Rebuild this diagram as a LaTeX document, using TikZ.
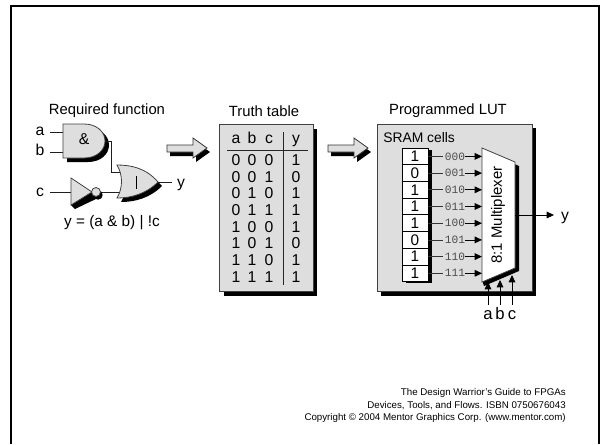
\documentclass[tikz,border=0pt]{standalone}
\usepackage{fontspec}
\setmainfont{Liberation Sans}
\newfontfamily\monof{Liberation Mono}
\usetikzlibrary{arrows.meta}
\definecolor{panel}{gray}{0.87}
\definecolor{wire}{gray}{0.12}
\tikzset{
  x=0.75pt,y=-0.75pt,
  shape fill/.style={fill=panel,draw=black!75,line width=0.6pt},
  wireline/.style={draw=wire,line width=0.6pt},
  arrowline/.style={draw=black,line width=0.6pt,-{Triangle[length=5.5pt,width=5pt]}},
  lab/.style={inner sep=0pt,text height=8pt,text depth=0pt,font=\fontsize{11.8}{12}\selectfont},
  title/.style={inner sep=0pt,font=\fontsize{11.1}{13}\selectfont},
  tt/.style={inner sep=0pt,text height=8pt,text depth=0pt,font=\fontsize{11.8}{12}\selectfont},
  addr/.style={inner sep=0pt,text=black!70,font=\monof\fontsize{8.4}{9}\selectfont},
  foot/.style={inner sep=0pt,anchor=east,font=\fontsize{7.3}{8}\selectfont},
  cellbox/.style={draw=black,line width=0.6pt,fill=white,minimum width=19.5pt,minimum height=12.5pt,inner sep=0pt,font=\fontsize{11.5}{12}\selectfont},
  pt/.style={inner sep=0pt,minimum size=0pt},
}
\newcommand{\fatarrow}[1]{%
  \begin{scope}[shift={(#1,0)}]
    \fill[black] (170,149) -- (196,149) -- (196,142) -- (210,152) -- (196,162) -- (196,156) -- (170,156) -- cycle;
    \draw[fill=panel,draw=black!80,line width=0.6pt] (167,145) -- (193,145) -- (193,138) -- (207,148) -- (193,158) -- (193,152) -- (167,152) -- cycle;
  \end{scope}}
\begin{document}
\begin{tikzpicture}
\useasboundingbox (0,0) rectangle (600,444);
\fill[white] (0,0) rectangle (600,444);
\draw[black,line width=2pt] (11,444) -- (11,6) -- (599,6) -- (599,444);

% ---- Required function
\node[title] (t1) at (107,111) {Required function};
\node[lab] (la) at (40,130) {a};
\node[lab] (lb) at (40,150) {b};
\node[lab] (lc) at (40,191) {c};
\coordinate (as) at (50,132);
\coordinate (bs) at (50,152);
\coordinate (cs) at (50,192);
\coordinate (ai) at (63,132);
\coordinate (bi) at (63,152);
\coordinate (ci) at (71,192);
\draw[wireline] (as) -- (ai);
\draw[wireline] (bs) -- (bi);
\draw[wireline] (cs) -- (ci);
% AND
\fill[black] (67,128) -- (88,128) .. controls (101,128) and (109,136) .. (109,145) .. controls (109,154) and (101,162) .. (88,162) -- (67,162) -- cycle;
\draw[shape fill] (63,124) -- (84,124) .. controls (97,124) and (105,132) .. (105,141) .. controls (105,150) and (97,158) .. (84,158) -- (63,158) -- cycle;
\node[lab] (amp) at (84,139) {\&};
% wires
\coordinate (ao) at (105,141);
\coordinate (oi) at (121,172);
\draw[wireline] (ao) -- (111,141) -- (111,172) -- (oi);
\draw[wireline] (101,192) -- (121,192);
% OR
\fill[black] (121,169) .. controls (135,169) and (150,172) .. (162,186) .. controls (150,198) and (135,202) .. (121,202) .. controls (127,192) and (127,179) .. (121,169) -- cycle;
\draw[shape fill] (117,165) .. controls (131,165) and (146,168) .. (158,182) .. controls (146,194) and (131,198) .. (117,198) .. controls (123,188) and (123,175) .. (117,165) -- cycle;
\draw[black,line width=0.6pt] (136,176) -- (136,189);
\node[lab] (ly) at (181,182) {y};
\draw[wireline] (158,182) -- (172,182);
% inverter
\fill[black] (71,205) -- (71,190) -- (92,192) -- (98,198) -- (75,209) -- cycle;
\draw[shape fill] (71,178) -- (92,192) -- (71,205) -- cycle;
\fill[black] (98,195) circle (4.7);
\draw[shape fill] (96,192) circle (4.5);
\node[inner sep=0pt,font=\fontsize{11.5}{12}\selectfont] (eq) at (112,223) {y = (a \& b) | !c};

% arrows
\fatarrow{0}
\fatarrow{161}

% ---- Truth table
\node[title] (t2) at (264,111) {Truth table};
\fill[black] (224,129) rectangle (317,296);
\draw[shape fill] (219,124) rectangle (313,291);
\foreach \x/\s in {236/a,252/b,269/c,296/y}{\node[tt] at (\x,138) {\s};}
\draw[black!85,line width=0.6pt] (283,132) -- (283,285);
\draw[black!85,line width=0.6pt] (227,150) -- (308,150);
\foreach \yy/\a/\b/\c/\d in {160/0/0/0/1,177/0/0/1/0,193/0/1/0/1,210/0/1/1/1,227/1/0/0/1,243/1/0/1/0,260/1/1/0/1,277/1/1/1/1}{
  \node[tt] at (236,\yy) {\a};
  \node[tt] at (252,\yy) {\b};
  \node[tt] at (269,\yy) {\c};
  \node[tt] at (296,\yy) {\d};
}

% ---- Programmed LUT
\node[title] (t3) at (448,111) {Programmed LUT};
\fill[black] (381,128) rectangle (536,296);
\draw[shape fill] (377,124) rectangle (532,291);
\node[inner sep=0pt,anchor=west,font=\fontsize{10.4}{12}\selectfont] (sc) at (383,138) {SRAM cells};
\fill[black] (406,150) rectangle (432,283);
% multiplexer
\fill[black] (486,152) -- (519,166) -- (519,271) -- (484,286) -- (482,280) -- cycle;
\node[pt] (mo) at (515,215) {};
\draw[fill=white,draw=black!75,line width=0.6pt] (482,148) -- (515,162) -- (515,268) -- (482,282) -- cycle;
\node[rotate=90,inner sep=0pt,font=\fontsize{11.2}{12}\selectfont] (mx) at (498,215) {8:1 Multiplexer};
\foreach \i/\v/\ad in {0/1/000,1/0/001,2/1/010,3/1/011,4/1/100,5/0/101,6/1/110,7/1/111}{
  \pgfmathsetmacro{\yy}{156.4+16.7*\i}
  \node[cellbox] (c\i) at (415,\yy) {\v};
  \node[addr] (ad\i) at (455,\yy) {\ad};
  \coordinate (in\i) at (482,\yy);
  \draw[black!80,line width=0.6pt] (c\i.east) -- ([xshift=-1pt]ad\i.west);
  \draw[arrowline] (ad\i.east) -- (in\i);
}
\node[lab] (oy) at (565,215) {y};
\coordinate (oe) at (554,215);
\draw[arrowline] (mo) -- (oe);
\foreach \s/\x/\ye in {a/488/282,b/500/280,c/512/275}{
  \node[lab,font=\fontsize{12.5}{13}\selectfont] (s\s) at (\x,314) {\s};
  \coordinate (st\s) at (\x,305);
  \coordinate (en\s) at (\x,\ye);
  \draw[arrowline] (st\s) -- (en\s);
}

% ---- Footer
\node[foot] (f1) at (566,393) {The Design Warrior's Guide to FPGAs};
\node[foot] (f2) at (566,405.5) {Devices, Tools, and Flows. ISBN 0750676043};
\node[foot] (f3) at (566,418) {Copyright © 2004 Mentor Graphics Corp. (www.mentor.com)};
\end{tikzpicture}
\end{document}
